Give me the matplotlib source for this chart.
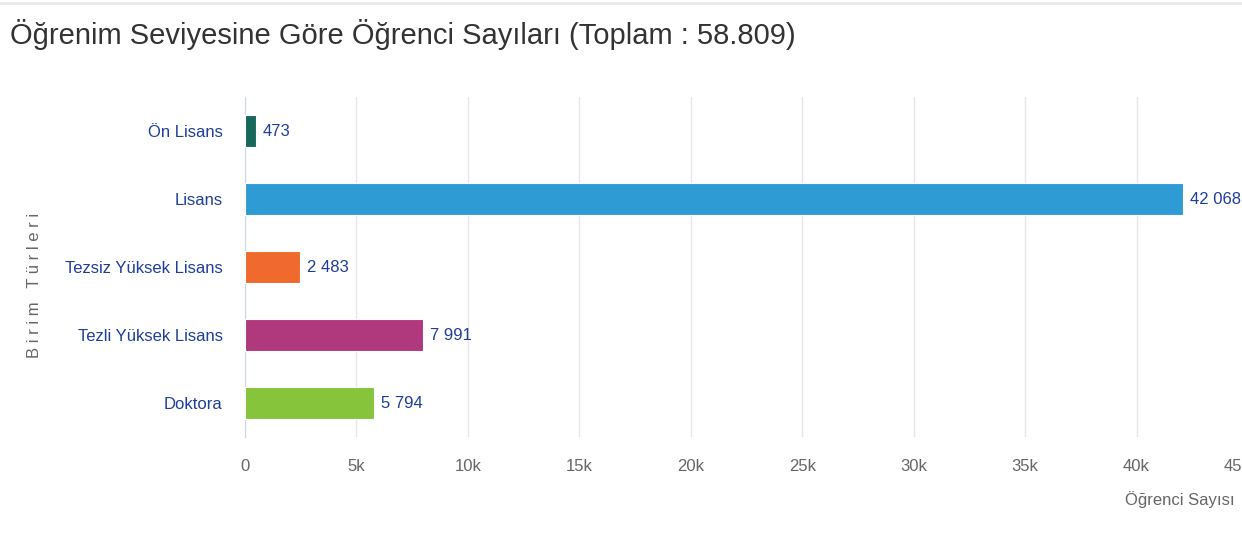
import matplotlib
matplotlib.use("Agg")
import matplotlib.pyplot as plt
from matplotlib.ticker import FuncFormatter, MultipleLocator

categories = ["Ön Lisans", "Lisans", "Tezsiz Yüksek Lisans", "Tezli Yüksek Lisans", "Doktora"]
values = [473, 42068, 2483, 7991, 5794]
colors = ["#17685a", "#2f9bd4", "#f06a2d", "#b0387c", "#86c43c"]
title = "Öğrenim Seviyesine Göre Öğrenci Sayıları (Toplam : 58.809)"
x_max = 45000

FONT = ["Liberation Sans", "DejaVu Sans"]
plt.rcParams["font.family"] = FONT


def kfmt(v):
    return "0" if v == 0 else f"{int(v / 1000)}k"


fig = plt.figure(figsize=(12.42, 5.4), dpi=100)
ax = fig.add_axes([245 / 1242, 1 - 437 / 540, (1248 - 245) / 1242, (437 - 97) / 540])

y = list(range(len(categories)))
ax.barh(y, values, height=0.48, color=colors, edgecolor="white", linewidth=0.8, zorder=3)
ax.set_ylim(len(categories) - 0.5, -0.5)
ax.set_xlim(0, x_max)
ax.set_yticks(y)
ax.set_yticklabels(categories, color="#1f3d9c", fontsize=12)
ax.xaxis.set_major_locator(MultipleLocator(5000))
ax.xaxis.set_major_formatter(FuncFormatter(lambda v, p: "" if v >= x_max else kfmt(v)))
ax.tick_params(axis="x", colors="#666666", labelsize=12, length=0, pad=16)
ax.tick_params(axis="y", length=0, pad=16)
ax.grid(axis="x", color="#e6e6e6", linewidth=1, zorder=0)
for s in ["top", "right", "bottom"]:
    ax.spines[s].set_visible(False)
ax.spines["left"].set_color("#ccd6eb")

# last tick label justified to the right (as in the original chart)
ax.annotate(kfmt(x_max), (x_max, 0), xycoords=("data", "axes fraction"), xytext=(2, -16),
            textcoords="offset points", ha="right", va="top", fontsize=12, color="#666666",
            annotation_clip=False)

for yi, v in zip(y, values):
    ax.annotate(f"{v:,}".replace(",", " "), (v, yi), xytext=(5, 0), textcoords="offset points",
                va="center", ha="left", color="#1f3d9c", fontsize=12, annotation_clip=False)

fig.text(10 / 1242, 1 - 35 / 540, title, fontsize=21, color="#333333", va="center", ha="left")
fig.text(35 / 1242, 1 - 285 / 540, "B i r i m   T ü r l e r i", rotation=90, fontsize=12,
         color="#666666", va="center", ha="center")
fig.text(1125 / 1242, 1 - 500 / 540, "Öğrenci Sayısı", fontsize=12, color="#666666", va="center", ha="left")

line = plt.Line2D([0, 1], [1 - 3 / 540, 1 - 3 / 540], transform=fig.transFigure, color="#e8e8e8", lw=2)
fig.add_artist(line)

fig.savefig("out.png", dpi=100)
